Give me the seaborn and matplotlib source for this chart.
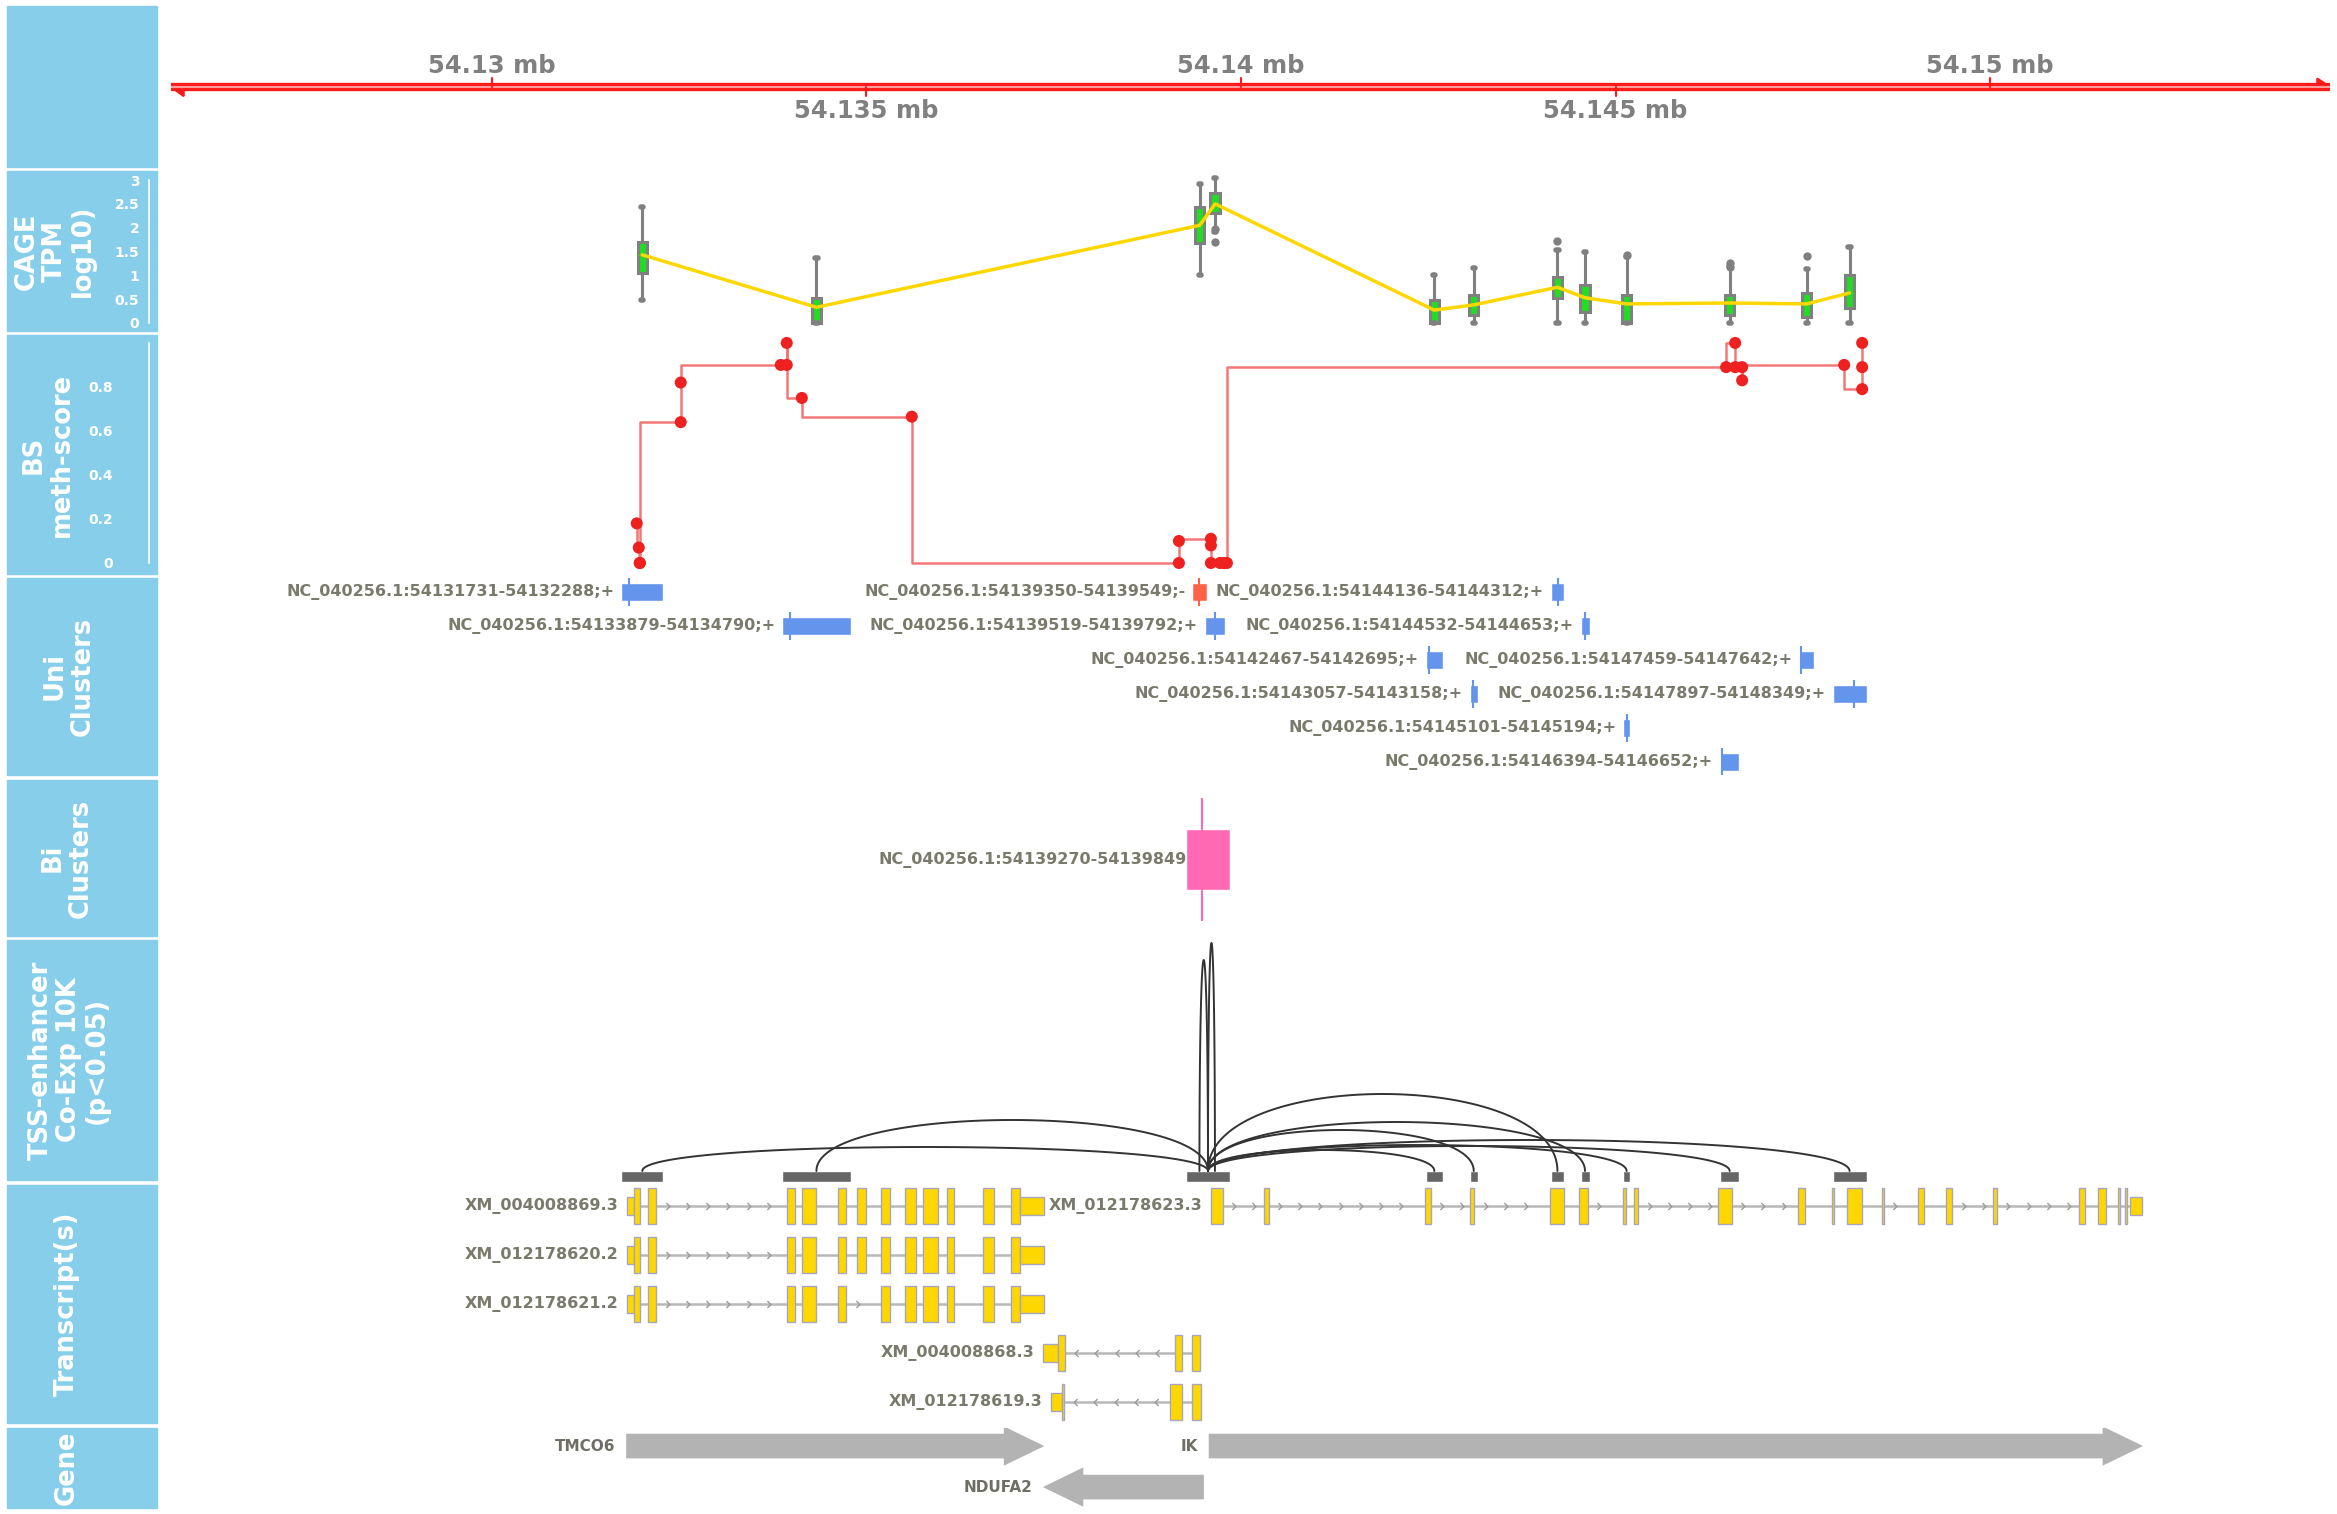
import numpy as np
import matplotlib
matplotlib.use('Agg')
import matplotlib.pyplot as plt
from matplotlib.path import Path
from matplotlib.patches import Rectangle
import seaborn as sns


# Region shown (bp) and chromosome

chrom = 'NC_040256.1'
view_start, view_end = 54125720, 54154535
axis_ticks_major = [54130000, 54140000, 54150000]
axis_ticks_minor = [54135000, 54145000]


# Uni-directional CAGE tag clusters

cl_start = [54131731, 54133879, 54139350, 54139519, 54142467, 54143057,
            54144136, 54144532, 54145101, 54146394, 54147459, 54147897]
cl_end = [54132288, 54134790, 54139549, 54139792, 54142695, 54143158,
          54144312, 54144653, 54145194, 54146652, 54147642, 54148349]
cl_strand = ['+', '+', '-', '+', '+', '+', '+', '+', '+', '+', '+', '+']
cl_tss = [54131830, 54133979, 54139446, 54139653, 54142510, 54143097,
          54144225, 54144593, 54145154, 54146422, 54147477, 54148185]
cl_row = [0, 1, 0, 1, 2, 3, 0, 1, 4, 5, 2, 3]

# CAGE TPM (log10) box stats, one per cluster

cage_med = [1.43, 0.33, 2.05, 2.50, 0.27, 0.38, 0.75, 0.53, 0.40, 0.42, 0.40, 0.63]
cage_q1 = [1.05, 0.00, 1.67, 2.30, 0.00, 0.17, 0.52, 0.23, 0.00, 0.17, 0.13, 0.31]
cage_q3 = [1.70, 0.52, 2.43, 2.73, 0.48, 0.59, 0.97, 0.80, 0.59, 0.59, 0.63, 1.00]
cage_lo = [0.48, 0.00, 1.00, 1.90, 0.00, 0.00, 0.00, 0.00, 0.00, 0.00, 0.00, 0.00]
cage_hi = [2.43, 1.36, 2.91, 3.05, 1.00, 1.15, 1.53, 1.49, 1.38, 1.20, 1.13, 1.59]
cage_fliers = [[], [], [], [1.98, 1.70], [], [], [1.72], [], [1.42], [1.26, 1.18],
               [1.40], []]

# Bisulfite methylation score

bs_pos = [54131936, 54131963, 54131976, 54131978, 54132523, 54132523,
          54133858, 54133938, 54133938, 54134139, 54135607,
          54139172, 54139172, 54139599, 54139599, 54139599, 54139720,
          54139773, 54139813, 54146475, 54146596, 54146596, 54146689,
          54146689, 54148051, 54148291, 54148291, 54148291]
bs_val = [0.18, 0.07, 0.0, 0.0, 0.64, 0.82,
          0.90, 0.90, 1.00, 0.75, 0.665,
          0.0, 0.10, 0.11, 0.08, 0.0, 0.0,
          0.0, 0.0, 0.89, 1.00, 0.89, 0.89,
          0.83, 0.90, 0.79, 0.89, 1.00]

# Bi-directional cluster

bi_start, bi_end, bi_tss = 54139270, 54139849, 54139480

# TSS-enhancer co-expression links (from the bi-directional cluster)

enh_start = [54131731, 54133879, 54142467, 54143057, 54144136, 54144532,
             54145101, 54146394, 54147897]
enh_end = [54132288, 54134790, 54142695, 54143158, 54144312, 54144653,
           54145194, 54146652, 54148349]
arc_from = 54139560
arc_to = [54132010, 54134334, 54142581, 54143107, 54144224, 54144592,
          54145147, 54146523, 54148123, 54139446, 54139653]
arc_height = [24, 51, 21, 41, 77, 49, 26, 25, 31, 211, 228]

# Transcripts: exons as (start, end, coding)

exons_869 = [(54131800, 54131894, 0), (54131894, 54131974, 1), (54132092, 54132199, 1),
             (54133936, 54134042, 1), (54134135, 54134335, 1), (54134627, 54134734, 1),
             (54134880, 54135000, 1), (54135198, 54135318, 1), (54135516, 54135663, 1),
             (54135756, 54135956, 1), (54136074, 54136167, 1), (54136553, 54136699, 1),
             (54136937, 54137057, 1), (54137057, 54137372, 0)]
exons_621 = [e for e in exons_869 if e[0] != 54134880]
exons_623 = [(54139600, 54139760, 1), (54140303, 54140369, 1), (54142451, 54142531, 1),
             (54143061, 54143115, 1), (54144122, 54144309, 1), (54144508, 54144628, 1),
             (54145104, 54145144, 1), (54145250, 54145304, 1), (54146365, 54146552, 1),
             (54147439, 54147532, 1), (54147890, 54147916, 1), (54148089, 54148289, 1),
             (54148553, 54148580, 1), (54149031, 54149111, 1), (54149415, 54149495, 1),
             (54150039, 54150092, 1), (54151180, 54151260, 1), (54151445, 54151551, 1),
             (54151710, 54151736, 1), (54151803, 54151830, 1), (54151869, 54152029, 0)]
exons_868 = [(54137356, 54137556, 0), (54137556, 54137650, 1),
             (54139118, 54139212, 1), (54139345, 54139452, 1)]
exons_619 = [(54137463, 54137610, 0), (54137610, 54137636, 1),
             (54139051, 54139212, 1), (54139345, 54139465, 1)]

tx_names = ['XM_004008869.3', 'XM_012178623.3', 'XM_012178620.2',
            'XM_012178621.2', 'XM_004008868.3', 'XM_012178619.3']
tx_rows = [0, 0, 1, 2, 3, 4]
tx_strand = ['+', '+', '+', '+', '-', '-']
tx_exons = [exons_869, exons_623, exons_869, exons_621, exons_868, exons_619]

# Genes

gene_names = ['TMCO6', 'IK', 'NDUFA2']
gene_start = [54131795, 54139570, 54137356]
gene_end = [54137375, 54152040, 54139505]
gene_strand = ['+', '+', '-']
gene_rows = [0, 0, 1]


# FIGURE SET-UP

sns.set_theme(style='white')
plt.rcParams['font.family'] = ['DejaVu Sans']

W, H = 2337, 1514
fig = plt.figure(figsize=(W / 100, H / 100), dpi=100)

sky = '#87CEEB'
lab_col = '#7a7a6c'
X0, X1 = 171, 2330


def px_axes(x0, y0, x1, y1):
    ax = fig.add_axes([x0 / W, 1 - y1 / H, (x1 - x0) / W, (y1 - y0) / H])
    ax.set_facecolor('none')
    return ax


def track_axes(y0, y1):
    ax = px_axes(X0, y0, X1, y1)
    ax.set_xlim(view_start, view_end)
    ax.axis('off')
    return ax


# title panels: (top, bottom, label, text centre x)
panels = [(6, 167, '', 82),
          (171, 331, 'CAGE\nTPM\nlog10)', 55),
          (335, 574, 'BS\nmeth-score', 48),
          (578, 775, 'Uni\nClusters', 69),
          (780, 936, 'Bi\nClusters', 67),
          (940, 1180, 'TSS-enhancer\nCo-Exp 10K\n(p<0.05)', 69),
          (1185, 1423, 'Transcript(s)', 67),
          (1428, 1508, 'Gene', 67)]
for top, bot, label, cx in panels:
    fig.add_artist(Rectangle((7 / W, 1 - bot / H), 150 / W, (bot - top) / H,
                             transform=fig.transFigure, color=sky, zorder=0))
    if label:
        fig.text(cx / W, 1 - (top + bot) / 2 / H, label, rotation=90,
                 ha='center', va='center', color='white', fontsize=18.5,
                 fontweight='bold', linespacing=1.1, multialignment='center')


def y_axis(y0, y1, lim, ticks, labels, top, pad):
    yax = px_axes(149, y0, 160, y1)
    yax.set_ylim(lim)
    yax.set_xticks([])
    for s in ['top', 'right', 'bottom']:
        yax.spines[s].set_visible(False)
    yax.spines['left'].set_color('white')
    yax.spines['left'].set_linewidth(1.2)
    yax.spines['left'].set_bounds(0, top)
    yax.set_yticks(ticks)
    yax.set_yticklabels(labels)
    yax.tick_params(axis='y', colors='white', length=4, width=1.2, pad=pad,
                    labelsize=10)
    for t in yax.get_yticklabels():
        t.set_fontweight('bold')


# GENOME AXIS

ax = track_axes(6, 167)
ax.set_ylim(0, 1)
ax.plot([view_start, view_end], [0.497, 0.497], color='#FF1A1A', lw=6,
        solid_capstyle='butt')
ax.plot([view_start, view_end], [0.497, 0.497], color='#FF9C9C', lw=1.5,
        solid_capstyle='butt')
ax.fill([view_end - 170, view_end, view_end - 170], [0.55, 0.497, 0.497],
        color='#FF1A1A', lw=1.5, ec='#FF1A1A')
ax.fill([view_start, view_start + 170, view_start + 170], [0.497, 0.44, 0.497],
        color='#FF1A1A', lw=1.5, ec='#FF1A1A')
for t in axis_ticks_major:
    ax.plot([t, t], [0.497, 0.55], color='#FF1A1A', lw=1.5)
    ax.text(t, 0.63, '%g mb' % (t / 1e6), ha='center', va='center',
            fontsize=17.5, fontweight='bold', color='#808080')
for t in axis_ticks_minor:
    ax.plot([t, t], [0.497, 0.44], color='#FF1A1A', lw=1.5)
    ax.text(t, 0.345, '%g mb' % (t / 1e6), ha='center', va='center',
            fontsize=17.5, fontweight='bold', color='#808080')


# CAGE TRACK

cage_lim = (-0.168, 3.189)
ax = track_axes(171, 331)
ax.set_ylim(cage_lim)
cage_pos = [(s + e) / 2 for s, e in zip(cl_start, cl_end)]
stats = [dict(med=m, q1=a, q3=b, whislo=lo, whishi=hi, fliers=f)
         for m, a, b, lo, hi, f in zip(cage_med, cage_q1, cage_q3, cage_lo,
                                       cage_hi, cage_fliers)]
ax.bxp(stats, positions=cage_pos, widths=125, capwidths=30, patch_artist=True,
       manage_ticks=False,
       boxprops=dict(facecolor='#22DD22', edgecolor='#808080', linewidth=2.2),
       whiskerprops=dict(color='#808080', linewidth=2.2),
       capprops=dict(color='#808080', linewidth=4, solid_capstyle='round'),
       medianprops=dict(color='#22DD22', linewidth=1),
       flierprops=dict(marker='o', markerfacecolor='#808080',
                       markeredgecolor='#808080', markersize=5))
sns.lineplot(x=cage_pos, y=cage_med, estimator=None, sort=False, ax=ax,
             color='#FFD700', linewidth=2.5, zorder=5)
ax.set_xlim(view_start, view_end)
ax.set_ylim(cage_lim)
ax.axis('off')
y_axis(171, 331, cage_lim, [0, 0.5, 1, 1.5, 2, 2.5, 3],
       ['0', '0.5', '1', '1.5', '2', '2.5', '3'], 3.0, 3)


# BS METHYLATION TRACK

bs_lim = (-0.05, 1.036)
ax = track_axes(335, 574)
ax.set_ylim(bs_lim)
sns.lineplot(x=bs_pos, y=bs_val, estimator=None, sort=False, ax=ax,
             color='#F27878', linewidth=1.8, drawstyle='steps-pre')
sns.scatterplot(x=bs_pos, y=bs_val, ax=ax, color='#EE2020', s=75,
                edgecolor='none', zorder=5)
ax.set_xlim(view_start, view_end)
ax.set_ylim(bs_lim)
ax.axis('off')
y_axis(335, 574, bs_lim, [0, 0.2, 0.4, 0.6, 0.8],
       ['0', '0.2', '0.4', '0.6', '0.8'], 1.0, 22)


# UNI CLUSTERS

ax = track_axes(578, 775)
ax.set_ylim(5.38, -0.41)
cl_col = ['#6495ED' if s == '+' else '#FF6347' for s in cl_strand]
ax.barh(cl_row, np.array(cl_end) - np.array(cl_start), left=cl_start,
        height=0.53, color=cl_col)
ax.vlines(cl_tss, np.array(cl_row) - 0.42, np.array(cl_row) + 0.42,
          colors=cl_col, lw=1.5)
for s, e, st, r in zip(cl_start, cl_end, cl_strand, cl_row):
    ax.annotate('%s:%d-%d;%s' % (chrom, s, e, st), xy=(s, r), xytext=(-5, 0),
                textcoords='offset points', ha='right', va='center',
                fontsize=11.5, fontweight='bold', color=lab_col)


# BI CLUSTERS

ax = track_axes(780, 936)
ax.set_ylim(-76.5, 79.5)
ax.barh([0], [bi_end - bi_start], left=[bi_start], height=61, color='#FF69B4')
ax.vlines([bi_tss], -61.5, 61.5, colors='#FF69B4', lw=1.5)
ax.annotate('%s:%d-%d' % (chrom, bi_start, bi_end), xy=(bi_start, 0),
            xytext=(0, 0), textcoords='offset points', ha='right', va='center',
            fontsize=11.5, fontweight='bold', color=lab_col)


# TSS-ENHANCER LINKS

ax = track_axes(940, 1184)
ax.set_ylim(-16, 228)
ax.barh([-8.5] * (len(enh_start) + 1),
        list(np.array(enh_end) - np.array(enh_start)) + [bi_end - bi_start],
        left=enh_start + [bi_start], height=11, color='#666666')
t = np.linspace(0, 1, 120)
for x1, h in zip(arc_to, arc_height):
    x0 = arc_from
    c = h * 4 / 3
    xs = (1 - t) ** 3 * x0 + 3 * (1 - t) ** 2 * t * x0 + 3 * (1 - t) * t ** 2 * x1 + t ** 3 * x1
    ys = 3 * (1 - t) ** 2 * t * c + 3 * (1 - t) * t ** 2 * c - 3
    ax.plot(xs, ys, color='#333333', lw=1.4)


# TRANSCRIPTS

chev_r = Path([(-0.6, 1), (0.4, 0), (-0.6, -1)],
              [Path.MOVETO, Path.LINETO, Path.LINETO])
chev_l = Path([(0.6, 1), (-0.4, 0), (0.6, -1)],
              [Path.MOVETO, Path.LINETO, Path.LINETO])

ax = track_axes(1185, 1423)
ax.set_ylim(4.43, -0.43)
for name, row, strand, exons in zip(tx_names, tx_rows, tx_strand, tx_exons):
    s0 = min(e[0] for e in exons)
    e1 = max(e[1] for e in exons)
    ax.hlines(row, s0, e1, colors='#B8B8B8', lw=1.8, zorder=1)
    ex = sorted(exons)
    for a, b in zip(ex[:-1], ex[1:]):
        if b[0] - a[1] > 400:
            ch = np.arange(a[1] + 150, b[0] - 80, 270)
            ax.plot(ch, [row] * len(ch), ls='none',
                    marker=chev_r if strand == '+' else chev_l,
                    markersize=5, mfc='none', mec='#9A9A9A', mew=1, zorder=2)
    starts = [e[0] for e in exons]
    widths = [e[1] - e[0] for e in exons]
    heights = [0.73 if e[2] else 0.37 for e in exons]
    ax.barh([row] * len(exons), widths, left=starts, height=heights,
            color='#FFD700', edgecolor='#A6A6BE', linewidth=1, zorder=3)
    ax.annotate(name, xy=(s0, row), xytext=(-6, 0), textcoords='offset points',
                ha='right', va='center', fontsize=11.5, fontweight='bold',
                color=lab_col)


# GENES

ax = track_axes(1428, 1508)
ax.set_ylim(1.51, -0.44)
head = 540
for name, s, e, st, r in zip(gene_names, gene_start, gene_end, gene_strand,
                             gene_rows):
    bh, hh = 0.3, 0.48
    if st == '+':
        xs = [s, e - head, e - head, e, e - head, e - head, s]
    else:
        xs = [e, s + head, s + head, s, s + head, s + head, e]
    ys = [r - bh, r - bh, r - hh, r, r + hh, r + bh, r + bh]
    ax.fill(xs, ys, color='#B3B3B3', lw=0)
    ax.annotate(name, xy=(s, r), xytext=(-7.5, 0), textcoords='offset points',
                ha='right', va='center', fontsize=11, fontweight='bold',
                color='#6e6e64')


plt.savefig('out.png', dpi=100)
